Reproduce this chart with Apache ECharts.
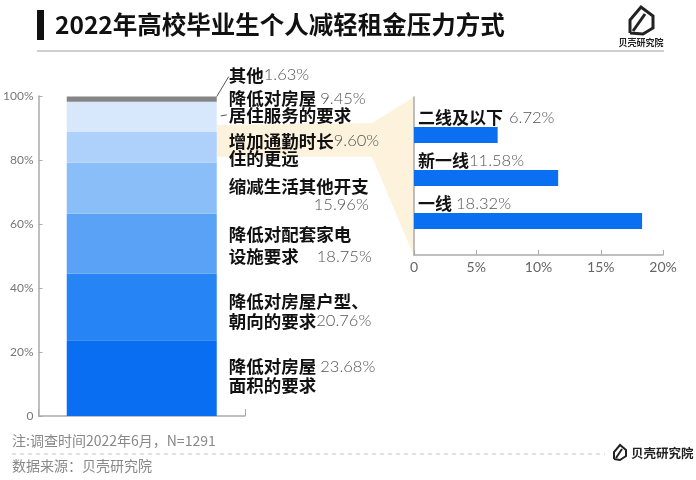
<!DOCTYPE html>
<html>
<head>
<meta charset="utf-8">
<script src="https://cdn.jsdelivr.net/npm/echarts@6/dist/echarts.min.js"></script>
<style>html,body{margin:0;padding:0;background:#fff;}#c{width:696px;height:480px;}</style>
</head>
<body>
<div id="c"></div>
<script>
// ---- data ----
const titleText = '2022年高校毕业生个人减轻租金压力方式';
const noteText = '注:调查时间2022年6月，N=1291';
const sourceText = '数据来源：贝壳研究院';
const brandText = '贝壳研究院';

const stackNames = ['降低对房屋面积的要求', '降低对房屋户型、朝向的要求', '降低对配套家电设施要求', '缩减生活其他开支', '增加通勤时长住的更远', '降低对房屋居住服务的要求', '其他'];
const stackValues = [23.68, 20.76, 18.75, 15.96, 9.60, 9.45, 1.63];
const stackLabelLines = [
  ['降低对房屋', '面积的要求'],
  ['降低对房屋户型、', '朝向的要求'],
  ['降低对配套家电', '设施要求'],
  ['缩减生活其他开支', ''],
  ['增加通勤时长', '住的更远'],
  ['降低对房屋', '居住服务的要求'],
  ['其他', '']
];
// which line (0/1) carries the percentage
const stackValueLine = [0, 1, 1, 1, 0, 0, 0];
const leftTicks = [0, 20, 40, 60, 80, 100];

const cityCats = ['一线', '新一线', '二线及以下'];
const cityValues = [18.32, 11.58, 6.72];
const rightTicks = [0, 5, 10, 15, 20];

// ---- styles ----
const stackColors = ['#0a6ef2', '#2684f4', '#5aa2f6', '#8abef9', '#add1fb', '#d8e8fc', '#858585'];
const labelDy = [-2, 4, 2, 7, 2, -10, -24];
const labelLH = [19, 20, 22, 18, 17, 17, 19];
const valueGap = [4, 0, 18, 0, 0, 4, 0];
const cityGap = [4, 0, 6];
const CJK = '"Noto Sans CJK SC", "Noto Sans", sans-serif';
const NUM = 'Lato, "Noto Sans", "Noto Sans CJK SC", sans-serif';

const chart = echarts.init(document.getElementById('c'), null, {renderer: 'canvas'});

function leftLabel(i) {
  const v = stackValues[i].toFixed(2) + '%';
  const l = stackLabelLines[i];
  const vl = stackValueLine[i];
  let line0 = '{b|' + l[0] + '}';
  let line1 = l[1] ? '{b|' + l[1] + '}' : '';
  const vtok = (valueGap[i] ? '{g' + i + '|}' : '') + '{v|' + v + '}';
  if (i === 3) return line0 + '\n{r|' + v + '}';
  if (vl === 0) line0 += vtok; else line1 += vtok;
  return line1 ? line0 + '\n' + line1 : line0;
}

const barW = 150;
const series = stackValues.map((val, i) => {
  const rich = {
    b: {fontFamily: CJK, fontSize: 17.5, fontWeight: 'bold', color: '#111', lineHeight: labelLH[i]},
    v: {fontFamily: NUM, fontSize: 16.5, fontWeight: 300, color: '#555', lineHeight: labelLH[i]},
    r: {fontFamily: NUM, fontSize: 16.5, fontWeight: 300, color: '#555', lineHeight: labelLH[i], align: 'right'}
  };
  rich['g' + i] = {width: valueGap[i], lineHeight: labelLH[i]};
  return {
    name: stackNames[i],
    type: 'bar',
    stack: 'total',
    xAxisIndex: 0, yAxisIndex: 0,
    barWidth: barW,
    data: [val],
    itemStyle: {color: stackColors[i]},
    label: {
      show: true, position: 'right', distance: 12, offset: [0, labelDy[i]],
      formatter: () => leftLabel(i), rich: rich
    },
    emphasis: {disabled: true},
    silent: true,
    animation: false
  };
});

const cityRich = {
  b: {fontFamily: CJK, fontSize: 17, fontWeight: 'bold', color: '#111', lineHeight: 20},
  v: {fontFamily: NUM, fontSize: 16.5, fontWeight: 300, color: '#555', lineHeight: 20}
};
cityGap.forEach((g, i) => { cityRich['g' + i] = {width: g, lineHeight: 20}; });

series.push({
  name: '城市',
  type: 'bar',
  xAxisIndex: 2, yAxisIndex: 2,
  barWidth: 16,
  data: cityValues,
  itemStyle: {color: '#0b6ff2'},
  label: {
    show: true, position: [4, -19],
    formatter: p => '{b|' + p.name + '}' + (cityGap[p.dataIndex] ? '{g' + p.dataIndex + '|}' : '') + '{v|' + p.value.toFixed(2) + '%}',
    rich: cityRich
  },
  silent: true,
  animation: false
});

const option = {
  backgroundColor: '#fff',
  animation: false,
  grid: [
    {left: 37, top: 96, width: 208, height: 320},
    {left: 414, top: 97, width: 249, height: 158},
    {left: 414, top: 113.5, width: 249, height: 129}
  ],
  xAxis: [
    {type: 'category', gridIndex: 0, data: ['占比'], boundaryGap: true,
     axisLine: {lineStyle: {color: '#aaa', width: 1.5}},
     axisTick: {show: true, inside: true, length: 7, lineStyle: {color: '#aaa'}},
     axisLabel: {show: false}},
    {type: 'value', gridIndex: 1, min: rightTicks[0], max: rightTicks[rightTicks.length - 1], interval: 5,
     axisLine: {show: true, lineStyle: {color: '#aaa', width: 1.5}},
     axisTick: {show: true, inside: true, length: 5, lineStyle: {color: '#aaa'}},
     splitLine: {show: false},
     axisLabel: {fontFamily: NUM, fontSize: 14, color: '#666', margin: 5,
       formatter: v => v === 0 ? '0' : v + '%'}},
    {type: 'value', gridIndex: 2, min: rightTicks[0], max: rightTicks[rightTicks.length - 1], show: false}
  ],
  yAxis: [
    {type: 'value', gridIndex: 0, min: leftTicks[0], max: leftTicks[leftTicks.length - 1], interval: 20,
     axisLine: {show: true, lineStyle: {color: '#aaa', width: 1.5}},
     axisTick: {show: true, inside: true, length: 4, lineStyle: {color: '#aaa'}},
     splitLine: {show: false},
     axisLabel: {fontFamily: NUM, fontSize: 12, color: '#777', margin: 5,
       formatter: v => v === 0 ? '0' : v + '%'}},
    {type: 'value', gridIndex: 1, min: 0, max: 1,
     axisLine: {show: true, lineStyle: {color: '#aaa', width: 1.5}},
     axisTick: {show: false}, axisLabel: {show: false}, splitLine: {show: false}},
    {type: 'category', gridIndex: 2, data: cityCats, show: false}
  ],
  series: series
};
chart.setOption(option);

// ---- annotations computed through the axes ----
const cum = [];
stackValues.reduce((a, v, i) => (cum[i] = a + v, a + v), 0);
const px = (c, v) => chart.convertToPixel({xAxisIndex: 0, yAxisIndex: 0}, [c, v]);
const barRight = px(0, 0)[0] + barW / 2;
const segTop = px(0, cum[4])[1];
const segBot = px(0, cum[3])[1];
const rTop = chart.convertToPixel({xAxisIndex: 1, yAxisIndex: 1}, [0, 1]);
const rBot = chart.convertToPixel({xAxisIndex: 1, yAxisIndex: 1}, [0, 0]);
const otherTop = px(0, cum[6])[1];
const serviceMid = (px(0, cum[5])[1] + px(0, cum[4])[1]) / 2;

const graphics = [
  // wedge
  {type: 'polygon', z: 0, silent: true,
   shape: {points: [[barRight, segTop - 7], [372, segTop - 9], [rTop[0], rTop[1]], [rBot[0], rBot[1] + 1], [372, segBot - 6], [barRight, segBot - 6]]},
   style: {fill: '#fdf2dc'}},
  // leader lines
  {type: 'line', z: 5, silent: true,
   shape: {x1: barRight, y1: otherTop, x2: barRight + 12, y2: otherTop - 20},
   style: {stroke: '#555', lineWidth: 1}},
  {type: 'line', z: 5, silent: true,
   shape: {x1: barRight + 4, y1: serviceMid - 1, x2: barRight + 10, y2: serviceMid - 2},
   style: {stroke: '#555', lineWidth: 1}},
  // title
  {type: 'rect', shape: {x: 37, y: 10, width: 7, height: 30}, style: {fill: '#111'}},
  {type: 'text', x: 55, y: 25, style: {text: titleText, fontFamily: CJK, fontSize: 24.5, fontWeight: 'bold', fill: '#111', textVerticalAlign: 'middle'}},
  {type: 'line', shape: {x1: 37, y1: 51, x2: 664, y2: 51}, style: {stroke: '#cfcfcf', lineWidth: 2}},
  // top-right logo
  {type: 'polyline', shape: {points: [[630, 33], [630, 20], [641, 7], [653, 16], [653, 28], [643, 34], [630, 33]]},
   style: {stroke: '#222', lineWidth: 3, fill: null}},
  {type: 'line', shape: {x1: 633, y1: 31, x2: 645, y2: 14}, style: {stroke: '#222', lineWidth: 3}},
  {type: 'text', x: 641, y: 43, style: {text: brandText, fontFamily: CJK, fontSize: 9, fontWeight: 'bold', fill: '#222', textAlign: 'center', textVerticalAlign: 'middle'}},
  // footer
  {type: 'text', x: 12, y: 441, style: {text: noteText, fontFamily: CJK, fontSize: 14, fill: '#888', textVerticalAlign: 'middle'}},
  {type: 'line', shape: {x1: 12, y1: 454, x2: 605, y2: 454}, style: {stroke: '#c4c4c4', lineWidth: 1, lineDash: [4, 4]}},
  {type: 'text', x: 12, y: 466, style: {text: sourceText, fontFamily: CJK, fontSize: 14, fill: '#888', textVerticalAlign: 'middle'}},
  {type: 'polyline', shape: {points: [[614, 459], [614, 452], [620, 445], [626, 450], [626, 456], [620, 460], [614, 459]]},
   style: {stroke: '#222', lineWidth: 2, fill: null}},
  {type: 'line', shape: {x1: 616, y1: 458, x2: 622, y2: 449}, style: {stroke: '#222', lineWidth: 2}},
  {type: 'text', x: 631, y: 453, style: {text: brandText, fontFamily: CJK, fontSize: 12.5, fontWeight: 'bold', fill: '#222', textVerticalAlign: 'middle'}}
];
chart.setOption({graphic: graphics});
</script>
</body>
</html>
